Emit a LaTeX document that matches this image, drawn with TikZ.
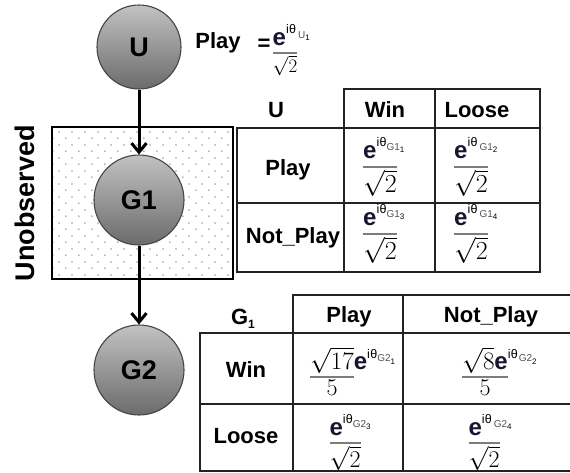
\RequirePackage{fix-cm}
\documentclass[tikz,border=0pt]{standalone}
\usepackage[no-math]{fontspec}
\usetikzlibrary{arrows.meta,patterns.meta}
\newfontfamily\af{Liberation Sans}

\definecolor{ink}{RGB}{22,22,48}
\definecolor{edge}{RGB}{70,70,70}
\definecolor{barc}{RGB}{125,125,125}
\definecolor{rulec}{RGB}{35,35,35}
\definecolor{subc}{RGB}{80,80,80}

% sparse staggered dot fill for the hidden-variable box
\pgfdeclarepattern{
  name=stipple, type=uncolored,
  bottom left={\pgfpoint{0pt}{0pt}},
  top right={\pgfpoint{12.6pt}{12.6pt}},
  tile size={\pgfpoint{12.6pt}{12.6pt}},
  code={
    \pgfpathcircle{\pgfpoint{3pt}{3pt}}{0.65pt}
    \pgfpathcircle{\pgfpoint{9.3pt}{9.3pt}}{0.65pt}
    \pgfusepath{fill}
  }
}

% amplitude pieces
\newcommand{\qE}{{\color{ink}\fontsize{24}{24}\selectfont\bfseries e}}
\newcommand{\qI}{\raisebox{11.5pt}{\fontsize{12.5}{12.5}\selectfont i\kern0.3pt θ}}
\newcommand{\qS}[2]{\raisebox{8pt}{\color{subc}\fontsize{10}{10}\selectfont #1}\raisebox{5.5pt}{\fontsize{8}{8}\selectfont #2}}

% fraction whose bar spans the first argument (or the denominator),
% the second argument hangs past the bar; baseline sits on the bar
\newsavebox\qnum \newsavebox\qden \newlength\qbar
\newcommand{\qfrac}[4][8pt]{%
  \sbox\qnum{#2}\sbox\qden{#4}%
  \setlength\qbar{\wd\qnum}%
  \ifdim\wd\qden>\qbar\setlength\qbar{\wd\qden}\fi
  \vtop{\offinterlineskip
    \vbox{\offinterlineskip
      \hbox to\qbar{\usebox\qnum\rlap{#3}\hss}%
      \kern#1
      \hbox{\color{barc}\rule{\qbar}{1.3pt}}}%
    \kern2pt
    \hbox to\qbar{\hss\usebox\qden\hss}}}
\newcommand{\rtwo}[1]{{\fontsize{#1}{#1}\selectfont$\sqrt{2}$}}

\begin{document}
\begin{tikzpicture}[x=1pt,y=-1pt,
  gnode/.style={circle, inner sep=0pt, draw=edge, line width=1.1pt,
    top color=black!24, bottom color=black!58,
    font=\af\bfseries\fontsize{27}{27}\selectfont},
  lbl/.style={inner sep=0pt, anchor=base, font=\af\bfseries\fontsize{22}{22}\selectfont},
  amp/.style={inner sep=0pt, anchor=base, font=\af},
  grid/.style={draw=rulec, line width=1.7pt, line cap=rect},
  link/.style={line width=3pt, -{Straight Barb[length=9pt,width=15pt]}}]

\useasboundingbox (0,0) rectangle (570,472);

% hidden-variable region
\draw[line width=1.5pt, pattern=stipple, pattern color=black!85]
  (52,127) rectangle (233,279);
\node[font=\af\bfseries\fontsize{27}{27}\selectfont, rotate=90, inner sep=0pt]
  (unobs) at (25,203) {Unobserved};

% network
\node[gnode, minimum size=84pt] (U)  at (139,47)  {U};
\node[gnode, minimum size=90pt] (G1) at (139,200) {G1};
\node[gnode, minimum size=90pt] (G2) at (139,370) {G2};
\draw[link] (U) -- (G1);
\draw[link] (G1) -- (G2);

% prior amplitude of U
\node[lbl] (uplay) at (218,48) {Play};
\node[lbl] (ueq) at (264,50) {=};
\node[amp] (uamp) at (285,53.6)
  {\qfrac[6pt]{\qE\qI}{\kern2pt\raisebox{-1pt}{\qS{U}{1}}}{\rtwo{19}}};

% table: G1 given U
\draw[grid] (344,89) -- (540,89);
\draw[grid] (237,128) -- (540,128);
\draw[grid] (237,203) -- (540,203);
\draw[grid] (237,272) -- (540,272);
\draw[grid] (237,128) -- (237,272);
\draw[grid] (344,89) -- (344,272);
\draw[grid] (435,89) -- (435,272);
\draw[grid] (540,89) -- (540,272);

\node[lbl] (t1u)    at (276,117) {U};
\node[lbl] (t1win)  at (385,117) {Win};
\node[lbl] (t1loo)  at (477,117) {Loose};
\node[lbl] (t1play) at (288,175) {Play};
\node[lbl] (t1not)  at (293,243) {Not\_Play};

\node[amp] (a11) at (380,167.6) {\qfrac{\qE\qI}{\qS{G1}{1}}{\rtwo{26}}};
\node[amp] (a12) at (471,167.6) {\qfrac{\qE\qI}{\kern2pt\qS{G1}{2}}{\rtwo{26}}};
\node[amp] (a13) at (380,234.6) {\qfrac{\qE\qI}{\qS{G1}{3}}{\rtwo{26}}};
\node[amp] (a14) at (471,234.6) {\qfrac{\qE\qI}{\kern2pt\qS{G1}{4}}{\rtwo{26}}};

% table: G2 given G1
\draw[grid] (293,295) -- (570,295);
\draw[grid] (200,333) -- (570,333);
\draw[grid] (200,404) -- (570,404);
\draw[grid] (200,471) -- (570,471);
\draw[grid] (200,333) -- (200,471);
\draw[grid] (293,295) -- (293,471);
\draw[grid] (403,295) -- (403,471);

\node[lbl] (t2g)    at (243,324) {G\raisebox{-4pt}{\fontsize{12}{12}\selectfont 1}};
\node[lbl] (t2play) at (349,322) {Play};
\node[lbl] (t2not)  at (491,322) {Not\_Play};
\node[lbl] (t2win)  at (246,377) {Win};
\node[lbl] (t2loo)  at (246,443) {Loose};

\node[amp] (b11) at (332,377.6)
  {\qfrac[3pt]{\fontsize{25}{25}\selectfont$\sqrt{17}$}{\qE\qI\qS{G2}{1}}{\fontsize{24}{24}\selectfont$5$}};
\node[amp] (b12) at (485,377.6)
  {\qfrac[3pt]{\fontsize{25}{25}\selectfont$\sqrt{8}$\qE}{\qI\kern1pt\qS{G2}{2}}{\fontsize{24}{24}\selectfont$5$}};
\node[amp] (b21) at (345,443.6) {\qfrac[7pt]{\qE\qI}{\qS{G2}{3}}{\rtwo{24}}};
\node[amp] (b22) at (484,443.6) {\qfrac[7pt]{\qE\qI}{\kern2pt\qS{G2}{4}}{\rtwo{24}}};

\end{tikzpicture}
\end{document}
